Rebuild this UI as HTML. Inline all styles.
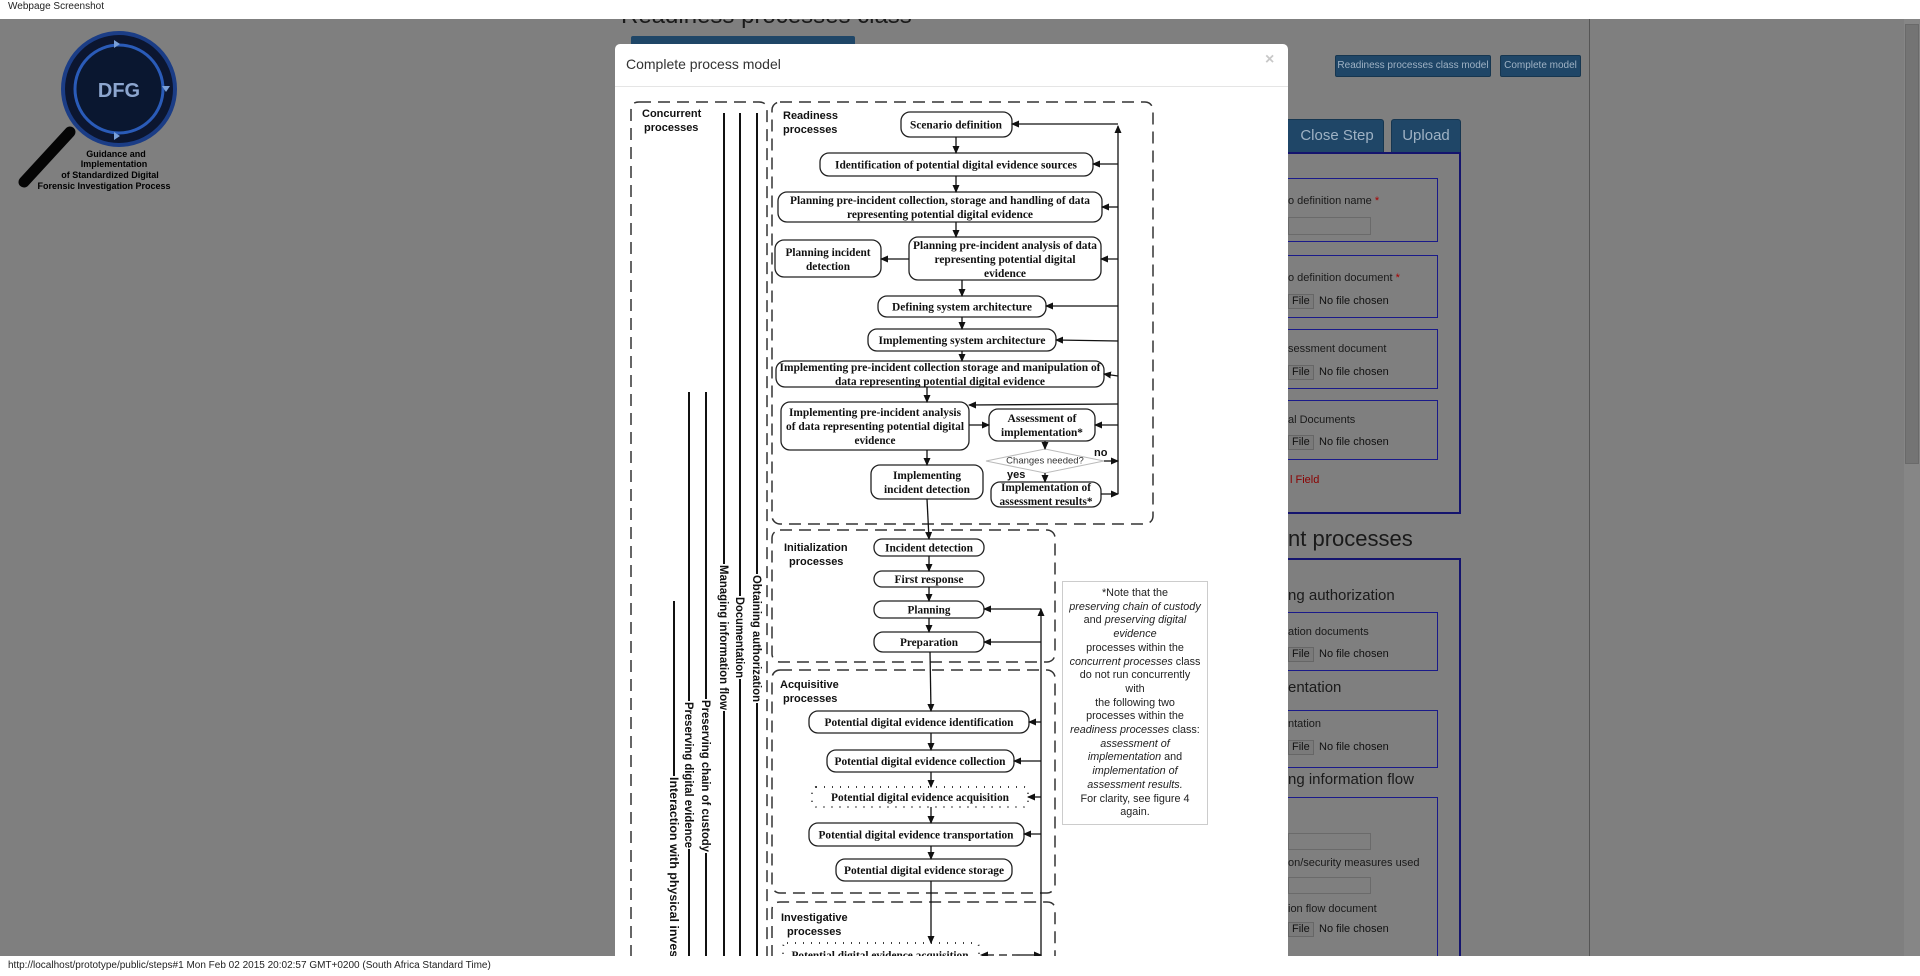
<!DOCTYPE html>
<html><head><meta charset="utf-8">
<style>
*{margin:0;padding:0;box-sizing:border-box}
html,body{width:1920px;height:976px;overflow:hidden}
body{background:#7f7f7f;font-family:"Liberation Sans",sans-serif;position:relative}
.a{position:absolute}
.topbar{left:0;top:0;width:1920px;height:19px;background:#fff;z-index:20;font-size:10px;color:#222;padding:1px 0 0 8px}
.botbar{left:0;top:956px;width:1920px;height:20px;background:#fff;z-index:20;font-size:10px;color:#222;padding:4px 0 0 8px}
.btn{background:#1f4667;border:1px solid #163650;color:#9fb2c4;font-size:10px;text-align:center;border-radius:2px}
.tab{background:#1f4667;color:#9fb2c4;font-size:15px;text-align:center;border-radius:3px 3px 0 0;border:1px solid #163650}
.panel{border:2px solid #14146e}
.fs{border:1px solid #1a1a8a}
.lbl{font-size:11px;color:#1a1a1a;white-space:nowrap}
.inp{border:1px solid #6a6a6a;background:#7f7f7f}
.fbtn{border:1px solid #666;background:#7a7a7a;font-size:11px;color:#111;padding:0 3px;height:15px;line-height:13px}
.nf{font-size:11px;color:#111;white-space:nowrap}
.h{color:#1a1a1a;white-space:nowrap}
.modal{left:615px;top:44px;width:673px;height:930px;background:#fff;border-radius:5px 5px 0 0;z-index:5}
.note{left:1062px;top:581px;width:146px;height:244px;border:1px solid #ccc;font-size:10.8px;line-height:13.7px;text-align:center;padding-top:5px;color:#222;z-index:7;white-space:nowrap;background:#fff}
</style></head><body>
<div class="a topbar">Webpage Screenshot</div>
<div class="a botbar">http://localhost/prototype/public/steps#1 Mon Feb 02 2015 20:02:57 GMT+0200 (South Africa Standard Time)</div>

<div class="a h" style="left:621px;top:2px;font-size:24px;color:#1a1a1a">Readiness processes class</div>
<div class="a" style="left:631px;top:36px;width:224px;height:10px;background:#1f4667;border-radius:2px"></div>

<svg class="a" style="left:0;top:0" width="240" height="200">
 <line x1="70" y1="132" x2="24" y2="182" stroke="#050505" stroke-width="11" stroke-linecap="round"/>
 <circle cx="119" cy="89" r="56" fill="#0c1630" stroke="#1b3d86" stroke-width="4"/>
 <circle cx="119" cy="89" r="44" fill="#0a1730" stroke="#2a5bb8" stroke-width="3"/>
 <path d="M114 40 l6 4 -6 4z M114 132 l6 4 -6 4z M162 86 l4 6 4 -6z" fill="#7aa0d8"/>
 <text x="119" y="97" font-family="Liberation Sans" font-size="20" font-weight="bold" fill="#8da6cf" text-anchor="middle">DFG</text>
 <g font-family="Liberation Sans" font-size="9" font-weight="bold" fill="#000" text-anchor="middle">
  <text x="116" y="157">Guidance and</text>
  <text x="114" y="167">Implementation</text>
  <text x="110" y="178">of Standardized Digital</text>
  <text x="104" y="189">Forensic Investigation Process</text>
 </g>
</svg>

<div class="a btn" style="left:1335px;top:55px;width:156px;height:22px;line-height:20px">Readiness processes class model</div>
<div class="a btn" style="left:1500px;top:55px;width:81px;height:22px;line-height:20px">Complete model</div>
<div class="a tab" style="left:1250px;top:119px;width:134px;height:34px;line-height:32px;padding-left:40px">Close Step</div>
<div class="a tab" style="left:1391px;top:119px;width:70px;height:34px;line-height:32px">Upload</div>
<div class="a panel" style="left:1200px;top:152px;width:261px;height:362px"></div>
<div class="a fs" style="left:1230px;top:178px;width:208px;height:64px"></div>
<div class="a lbl" style="left:1288px;top:195px">o definition name <span style="color:#a00">*</span></div>
<div class="a inp" style="left:1288px;top:217px;width:83px;height:18px"></div>
<div class="a fs" style="left:1230px;top:255px;width:208px;height:63px"></div>
<div class="a lbl" style="left:1288px;top:272px">o definition document <span style="color:#a00">*</span></div>
<div class="a fbtn" style="left:1288px;top:294px">File</div><div class="a nf" style="left:1319px;top:295px">No file chosen</div>
<div class="a fs" style="left:1230px;top:329px;width:208px;height:60px"></div>
<div class="a lbl" style="left:1288px;top:343px">sessment document</div>
<div class="a fbtn" style="left:1288px;top:365px">File</div><div class="a nf" style="left:1319px;top:366px">No file chosen</div>
<div class="a fs" style="left:1230px;top:400px;width:208px;height:60px"></div>
<div class="a lbl" style="left:1288px;top:414px">al Documents</div>
<div class="a fbtn" style="left:1288px;top:435px">File</div><div class="a nf" style="left:1319px;top:436px">No file chosen</div>
<div class="a nf" style="left:1290px;top:474px;color:#8a0000">l Field</div>
<div class="a h" style="left:1288px;top:526px;font-size:22px">nt processes</div>
<div class="a panel" style="left:1200px;top:558px;width:261px;height:460px"></div>
<div class="a h" style="left:1288px;top:587px;font-size:15px">ng authorization</div>
<div class="a fs" style="left:1230px;top:612px;width:208px;height:59px"></div>
<div class="a lbl" style="left:1288px;top:626px">ation documents</div>
<div class="a fbtn" style="left:1288px;top:647px">File</div><div class="a nf" style="left:1319px;top:648px">No file chosen</div>
<div class="a h" style="left:1288px;top:679px;font-size:15px">entation</div>
<div class="a fs" style="left:1230px;top:710px;width:208px;height:58px"></div>
<div class="a lbl" style="left:1288px;top:718px">ntation</div>
<div class="a fbtn" style="left:1288px;top:740px">File</div><div class="a nf" style="left:1319px;top:741px">No file chosen</div>
<div class="a h" style="left:1288px;top:771px;font-size:15px">ng information flow</div>
<div class="a fs" style="left:1230px;top:797px;width:208px;height:170px"></div>
<div class="a inp" style="left:1288px;top:833px;width:83px;height:17px"></div>
<div class="a lbl" style="left:1288px;top:857px">on/security measures used</div>
<div class="a inp" style="left:1288px;top:877px;width:83px;height:17px"></div>
<div class="a lbl" style="left:1288px;top:903px">ion flow document</div>
<div class="a fbtn" style="left:1288px;top:922px">File</div><div class="a nf" style="left:1319px;top:923px">No file chosen</div>
<div class="a" style="left:1589px;top:19px;width:1px;height:937px;background:#555"></div>
<div class="a" style="left:1904px;top:19px;width:16px;height:937px;background:#868686"></div>
<div class="a" style="left:1905px;top:24px;width:14px;height:440px;background:#747474;border:1px solid #6a6a6a"></div>

<div class="a modal">
 <div class="a" style="left:11px;top:12px;font-size:14px;color:#333">Complete process model</div>
 <div class="a" style="left:650px;top:7px;font-size:16px;color:#c8c8c8;font-weight:bold">×</div>
 <div class="a" style="left:0;top:42px;width:673px;height:1px;background:#e5e5e5"></div>
</div>

<svg class="a" style="left:0;top:0;z-index:6" width="1920" height="976">
<defs>
 <marker id="ar" markerWidth="8" markerHeight="8" refX="7" refY="4" orient="auto" markerUnits="userSpaceOnUse">
  <path d="M0,0.5 L8,4 L0,7.5z" fill="#111"/>
 </marker>
</defs>
<g fill="none" stroke="#333" stroke-width="1.5" stroke-dasharray="12,7">
 <path d="M639 102 H759 Q767 102 767 110 V976 M631 976 V110 Q631 102 639 102"/>
 <rect x="772" y="102" width="381" height="422" rx="8"/>
 <rect x="772" y="530" width="283" height="132" rx="8"/>
 <rect x="772" y="670" width="283" height="223" rx="8"/>
 <path d="M772 976 V910 Q772 902 780 902 H1047 Q1055 902 1055 910 V976"/>
</g>
<g stroke="#111" stroke-width="2">
 <line x1="724" y1="113" x2="724" y2="976"/>
 <line x1="740" y1="113" x2="740" y2="976"/>
 <line x1="757" y1="113" x2="757" y2="976"/>
 <line x1="689" y1="392" x2="689" y2="976"/>
 <line x1="706" y1="392" x2="706" y2="976"/>
 <line x1="674" y1="601" x2="674" y2="976"/>
</g>
<g fill="#fff">
 <rect x="750" y="574" width="14" height="129"/>
 <rect x="733" y="596" width="14" height="83"/>
 <rect x="717" y="564" width="14" height="147"/>
 <rect x="699" y="699" width="14" height="154"/>
 <rect x="682" y="701" width="14" height="148"/>
 <rect x="667" y="776" width="14" height="200"/>
</g>
<g font-family="Liberation Sans" font-size="12" font-weight="bold" fill="#111" dominant-baseline="central">
 <text transform="translate(757,575) rotate(90)" textLength="127" lengthAdjust="spacingAndGlyphs">Obtaining authorization</text>
 <text transform="translate(740,597) rotate(90)" textLength="81" lengthAdjust="spacingAndGlyphs">Documentation</text>
 <text transform="translate(724,565) rotate(90)" textLength="145" lengthAdjust="spacingAndGlyphs">Managing information flow</text>
 <text transform="translate(706,700) rotate(90)" textLength="152" lengthAdjust="spacingAndGlyphs">Preserving chain of custody</text>
 <text transform="translate(689,702) rotate(90)" textLength="146" lengthAdjust="spacingAndGlyphs">Preserving digital evidence</text>
 <text transform="translate(674,777) rotate(90)" textLength="225" lengthAdjust="spacingAndGlyphs">Interaction with physical investigation</text>
</g>
<g font-family="Liberation Sans" font-size="11" font-weight="bold" fill="#111">
 <text x="642" y="117">Concurrent</text><text x="644" y="131">processes</text>
 <text x="783" y="119">Readiness</text><text x="783" y="133">processes</text>
 <text x="784" y="551">Initialization</text><text x="789" y="565">processes</text>
 <text x="780" y="688">Acquisitive</text><text x="783" y="702">processes</text>
 <text x="781" y="921">Investigative</text><text x="787" y="935">processes</text>
</g>
<g fill="#fff" stroke="#222" stroke-width="1.3">
 <rect x="901" y="112" width="111" height="25" rx="9"/>
 <rect x="820" y="153" width="273" height="23" rx="9"/>
 <rect x="778" y="192" width="324" height="30" rx="9"/>
 <rect x="775" y="240" width="106" height="37" rx="9"/>
 <rect x="909" y="237" width="192" height="43" rx="9"/>
 <rect x="878" y="296" width="168" height="21" rx="9"/>
 <rect x="868" y="329" width="188" height="22" rx="9"/>
 <rect x="776" y="361" width="328" height="26" rx="9"/>
 <rect x="781" y="402" width="188" height="48" rx="9"/>
 <rect x="989" y="409" width="106" height="32" rx="9"/>
 <rect x="871" y="465" width="112" height="34" rx="9"/>
 <rect x="991" y="482" width="110" height="25" rx="9"/>
 <rect x="874" y="539" width="110" height="17" rx="8"/>
 <rect x="874" y="571" width="110" height="16" rx="8"/>
 <rect x="874" y="601" width="110" height="17" rx="8"/>
 <rect x="874" y="632" width="110" height="20" rx="9"/>
 <rect x="809" y="711" width="220" height="22" rx="9"/>
 <rect x="827" y="750" width="187" height="22" rx="9"/>
 <rect x="809" y="823" width="215" height="23" rx="9"/>
 <rect x="836" y="859" width="176" height="22" rx="9"/>
</g>
<g fill="#fff" stroke="#222" stroke-width="1.8" stroke-dasharray="1,7">
 <rect x="812" y="787" width="216" height="20" rx="4"/>
 <rect x="783" y="943" width="196" height="30" rx="4"/>
</g>
<polygon points="986,461 1045,449 1104,461 1045,473" fill="#fff" stroke="#bbb" stroke-width="1"/>
<text x="1045" y="461" font-family="Liberation Sans" font-size="9.5" fill="#333" text-anchor="middle" dominant-baseline="central">Changes needed?</text>
<g font-family="Liberation Sans" font-size="11" font-weight="bold" fill="#111">
 <text x="1094" y="456">no</text><text x="1007" y="478">yes</text>
</g>
<g font-family="Liberation Serif" font-size="12" font-weight="bold" fill="#111" text-anchor="middle" dominant-baseline="central">
 <text x="956" y="124.5" textLength="92" lengthAdjust="spacingAndGlyphs">Scenario definition</text>
 <text x="956" y="164.5" textLength="242" lengthAdjust="spacingAndGlyphs">Identification of potential digital evidence sources</text>
 <text x="940" y="200" textLength="300" lengthAdjust="spacingAndGlyphs">Planning pre-incident collection, storage and handling of data</text>
 <text x="940" y="214" textLength="186" lengthAdjust="spacingAndGlyphs">representing potential digital evidence</text>
 <text x="828" y="252" textLength="85" lengthAdjust="spacingAndGlyphs">Planning incident</text>
 <text x="828" y="266" textLength="44" lengthAdjust="spacingAndGlyphs">detection</text>
 <text x="1005" y="245" textLength="184" lengthAdjust="spacingAndGlyphs">Planning pre-incident analysis of data</text>
 <text x="1005" y="259" textLength="141" lengthAdjust="spacingAndGlyphs">representing potential digital</text>
 <text x="1005" y="273" textLength="42" lengthAdjust="spacingAndGlyphs">evidence</text>
 <text x="962" y="306.5" textLength="140" lengthAdjust="spacingAndGlyphs">Defining system architecture</text>
 <text x="962" y="340" textLength="167" lengthAdjust="spacingAndGlyphs">Implementing system architecture</text>
 <text x="940" y="367" textLength="321" lengthAdjust="spacingAndGlyphs">Implementing pre-incident collection storage and manipulation of</text>
 <text x="940" y="381" textLength="210" lengthAdjust="spacingAndGlyphs">data representing potential digital evidence</text>
 <text x="875" y="412" textLength="172" lengthAdjust="spacingAndGlyphs">Implementing pre-incident analysis</text>
 <text x="875" y="426" textLength="178" lengthAdjust="spacingAndGlyphs">of data representing potential digital</text>
 <text x="875" y="440" textLength="41" lengthAdjust="spacingAndGlyphs">evidence</text>
 <text x="1042" y="418" textLength="69" lengthAdjust="spacingAndGlyphs">Assessment of</text>
 <text x="1042" y="432" textLength="82" lengthAdjust="spacingAndGlyphs">implementation*</text>
 <text x="927" y="475" textLength="68" lengthAdjust="spacingAndGlyphs">Implementing</text>
 <text x="927" y="489" textLength="86" lengthAdjust="spacingAndGlyphs">incident detection</text>
 <text x="1046" y="487" textLength="90" lengthAdjust="spacingAndGlyphs">Implementation of</text>
 <text x="1046" y="501" textLength="93" lengthAdjust="spacingAndGlyphs">assessment results*</text>
 <text x="929" y="547.5" textLength="88" lengthAdjust="spacingAndGlyphs">Incident detection</text>
 <text x="929" y="579" textLength="69" lengthAdjust="spacingAndGlyphs">First response</text>
 <text x="929" y="609.5" textLength="43" lengthAdjust="spacingAndGlyphs">Planning</text>
 <text x="929" y="642" textLength="58" lengthAdjust="spacingAndGlyphs">Preparation</text>
 <text x="919" y="722" textLength="189" lengthAdjust="spacingAndGlyphs">Potential digital evidence identification</text>
 <text x="920" y="761" textLength="171" lengthAdjust="spacingAndGlyphs">Potential digital evidence collection</text>
 <text x="920" y="797" textLength="178" lengthAdjust="spacingAndGlyphs">Potential digital evidence acquisition</text>
 <text x="916" y="834.5" textLength="195" lengthAdjust="spacingAndGlyphs">Potential digital evidence transportation</text>
 <text x="924" y="870" textLength="160" lengthAdjust="spacingAndGlyphs">Potential digital evidence storage</text>
 <text x="880" y="955" textLength="177" lengthAdjust="spacingAndGlyphs">Potential digital evidence acquisition</text>
</g>
<g stroke="#111" stroke-width="1.3" fill="none" marker-end="url(#ar)">
 <line x1="956" y1="137" x2="956" y2="153"/>
 <line x1="956" y1="176" x2="956" y2="192"/>
 <line x1="956" y1="222" x2="956" y2="237"/>
 <line x1="909" y1="259" x2="881" y2="259"/>
 <line x1="962" y1="280" x2="962" y2="296"/>
 <line x1="962" y1="317" x2="962" y2="329"/>
 <line x1="962" y1="351" x2="962" y2="361"/>
 <line x1="927" y1="387" x2="927" y2="402"/>
 <line x1="969" y1="425" x2="989" y2="425"/>
 <line x1="1045" y1="441" x2="1045" y2="449"/>
 <line x1="1045" y1="473" x2="1045" y2="482"/>
 <line x1="1104" y1="461" x2="1118" y2="461"/>
 <line x1="1101" y1="494" x2="1118" y2="494"/>
 <line x1="927" y1="450" x2="927" y2="465"/>
 <line x1="927" y1="499" x2="929" y2="539"/>
 <line x1="1118" y1="494" x2="1118" y2="126"/>
 <line x1="1118" y1="124" x2="1012" y2="124"/>
 <line x1="1118" y1="164" x2="1093" y2="164"/>
 <line x1="1118" y1="207" x2="1102" y2="207"/>
 <line x1="1118" y1="259" x2="1101" y2="259"/>
 <line x1="1118" y1="306" x2="1046" y2="306"/>
 <line x1="1118" y1="341" x2="1056" y2="340"/>
 <line x1="1118" y1="376" x2="1104" y2="374"/>
 <line x1="1118" y1="404" x2="969" y2="405"/>
 <line x1="1118" y1="425" x2="1095" y2="425"/>
 <line x1="929" y1="556" x2="929" y2="571"/>
 <line x1="929" y1="587" x2="929" y2="601"/>
 <line x1="929" y1="618" x2="929" y2="632"/>
 <line x1="930" y1="652" x2="931" y2="711"/>
 <line x1="1041" y1="976" x2="1041" y2="609"/>
 <line x1="1041" y1="609" x2="984" y2="609"/>
 <line x1="1041" y1="642" x2="984" y2="642"/>
 <line x1="1041" y1="722" x2="1029" y2="722"/>
 <line x1="1041" y1="761" x2="1014" y2="761"/>
 <line x1="1041" y1="797" x2="1028" y2="797"/>
 <line x1="1041" y1="834" x2="1024" y2="834"/>
 <line x1="931" y1="733" x2="931" y2="750"/>
 <line x1="931" y1="772" x2="931" y2="787"/>
 <line x1="931" y1="807" x2="931" y2="823"/>
 <line x1="931" y1="846" x2="931" y2="859"/>
 <line x1="931" y1="881" x2="931" y2="943"/>
 <line x1="1020" y1="955" x2="981" y2="955" stroke-dasharray="8,5"/>
 <line x1="1020" y1="955" x2="1041" y2="955"/>
</g>
</svg>

<div class="a note">*Note that the<br><i>preserving chain of custody</i><br>and <i>preserving digital</i><br><i>evidence</i><br>processes within the<br><i>concurrent processes</i> class<br>do not run concurrently<br>with<br>the following two<br>processes within the<br><i>readiness processes</i> class:<br><i>assessment of</i><br><i>implementation</i> and<br><i>implementation of</i><br><i>assessment results.</i><br>For clarity, see figure 4<br>again.</div>
</body></html>
